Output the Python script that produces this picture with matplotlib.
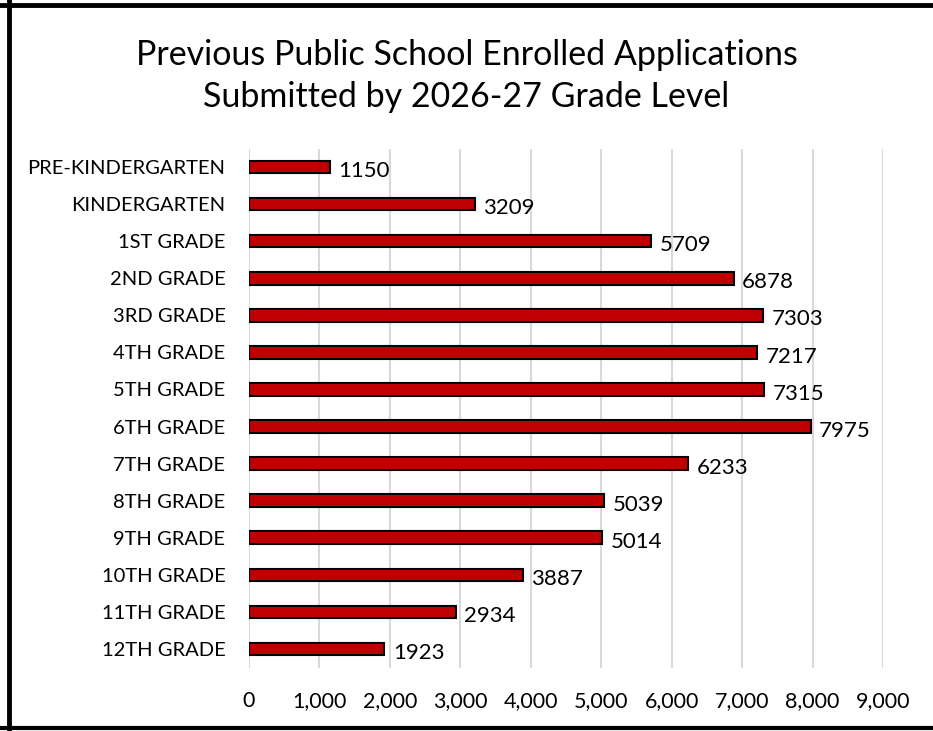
import matplotlib
matplotlib.use("Agg")
import matplotlib.pyplot as plt
from matplotlib.lines import Line2D
from matplotlib.ticker import FuncFormatter

categories = ["PRE-KINDERGARTEN", "KINDERGARTEN", "1ST GRADE", "2ND GRADE", "3RD GRADE",
              "4TH GRADE", "5TH GRADE", "6TH GRADE", "7TH GRADE", "8TH GRADE",
              "9TH GRADE", "10TH GRADE", "11TH GRADE", "12TH GRADE"]
values = [1150, 3209, 5709, 6878, 7303, 7217, 7315, 7975, 6233, 5039, 5014, 3887, 2934, 1923]
x_ticks = [0, 1000, 2000, 3000, 4000, 5000, 6000, 7000, 8000, 9000]
title = "Previous Public School Enrolled Applications\nSubmitted by 2026-27 Grade Level"

plt.rcParams['font.family'] = ['Lato', 'DejaVu Sans']

W, H = 933, 731
fig = plt.figure(figsize=(W / 100, H / 100), dpi=100)
ax = fig.add_axes([249 / W, 1 - 667.5 / H, (883 - 249) / W, (667.5 - 148.5) / H])

ypos = list(range(len(categories)))
ax.barh(ypos, values, height=0.34, color="#C00000", edgecolor="black", linewidth=1.5, zorder=3)
for y, v in zip(ypos, values):
    ax.annotate(str(v), xy=(v, y), xytext=(6, -3), textcoords="offset points",
                va="center", ha="left", fontsize=16, color="black")

ax.set_xlim(0, 9000)
ax.set_ylim(len(categories) - 0.5, -0.5)
ax.set_yticks(ypos)
ax.set_yticklabels(categories, fontsize=14.5)
ax.set_xticks(x_ticks)
ax.xaxis.set_major_formatter(FuncFormatter(lambda v, p: f"{int(v):,}"))
ax.tick_params(axis="x", labelsize=15.5, length=0, pad=17)
ax.tick_params(axis="y", length=0, pad=17)
ax.grid(axis="x", color="#D9D9D9", linewidth=1.5, zorder=0)
for s in ax.spines.values():
    s.set_visible(False)

fig.text(0.5, 1 - 76 / H, title, ha="center", va="center", fontsize=24.5, linespacing=1.35)

# outer border
fig.add_artist(Line2D([9 / W, 9 / W], [0, 1], transform=fig.transFigure, color="black", linewidth=3.5))
fig.add_artist(Line2D([0, 1], [1 - 5 / H, 1 - 5 / H], transform=fig.transFigure, color="black", linewidth=3.5))
fig.add_artist(Line2D([0, 1], [1 - 728 / H, 1 - 728 / H], transform=fig.transFigure, color="black", linewidth=3))

fig.savefig("out.png", dpi=100)
